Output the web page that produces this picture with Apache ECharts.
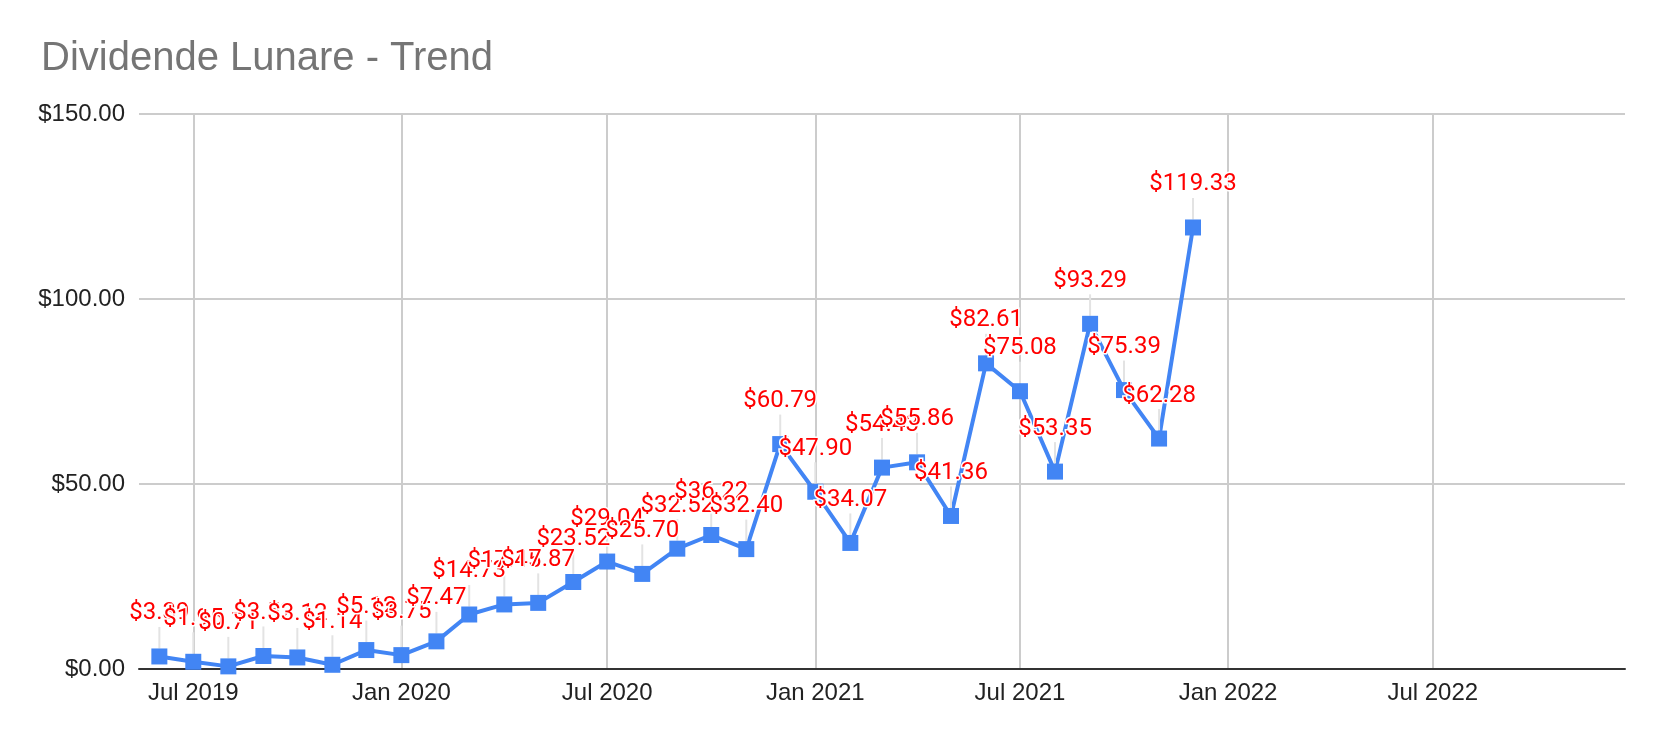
<!DOCTYPE html>
<html>
<head>
<meta charset="utf-8">
<title>Dividende Lunare - Trend</title>
<script src="https://cdn.jsdelivr.net/npm/echarts@6/dist/echarts.min.js"></script>
<style>
  html, body { margin: 0; padding: 0; background: #fff; }
  #main { width: 1662px; height: 742px; }
</style>
</head>
<body>
<div id="main"></div>
<script>
// one point per month, first of the month
var months = [
    '2019-06-01', '2019-07-01', '2019-08-01', '2019-09-01', '2019-10-01', '2019-11-01', '2019-12-01',
    '2020-01-01', '2020-02-01', '2020-03-01', '2020-04-01', '2020-05-01', '2020-06-01',
    '2020-07-01', '2020-08-01', '2020-09-01', '2020-10-01', '2020-11-01', '2020-12-01',
    '2021-01-01', '2021-02-01', '2021-03-01', '2021-04-01', '2021-05-01', '2021-06-01',
    '2021-07-01', '2021-08-01', '2021-09-01', '2021-10-01', '2021-11-01', '2021-12-01'
];
var dividends = [
    3.39, 1.95, 0.71, 3.52, 3.12, 1.14, 5.12,
    3.75, 7.47, 14.73, 17.45, 17.87, 23.52,
    29.04, 25.70, 32.52, 36.22, 32.40, 60.79,
    47.90, 34.07, 54.43, 55.86, 41.36, 82.61,
    75.08, 53.35, 93.29, 75.39, 62.28, 119.33
];
var yTicks = [0, 50, 100, 150];
var monthNames = ['Jan', 'Feb', 'Mar', 'Apr', 'May', 'Jun', 'Jul', 'Aug', 'Sep', 'Oct', 'Nov', 'Dec'];

var seriesData = [];
for (var i = 0; i < months.length; i++) {
    seriesData.push([months[i], dividends[i]]);
}

var day = 24 * 3600 * 1000;
var chart = echarts.init(document.getElementById('main'));
var option = {
    animation: false,
    backgroundColor: '#fff',
    title: {
        text: 'Dividende Lunare - Trend',
        left: 36,
        top: 34,
        textStyle: {
            fontFamily: 'Liberation Sans',
            fontSize: 40,
            fontWeight: 'normal',
            color: '#757575'
        }
    },
    grid: {
        left: 139,
        right: 37,
        top: 114,
        bottom: 73,
        containLabel: false
    },
    xAxis: {
        type: 'time',
        min: new Date(2019, 4, 14).getTime(),
        max: new Date(2022, 11, 18).getTime(),
        minInterval: 180 * day,
        maxInterval: 185 * day,
        axisLine: { show: true, lineStyle: { color: '#333', width: 2 } },
        axisTick: { show: false },
        splitLine: {
            show: true,
            showMinLine: false,
            showMaxLine: false,
            lineStyle: { color: '#ccc', width: 2 }
        },
        axisLabel: {
            fontFamily: 'Liberation Sans',
            fontSize: 24,
            color: '#222',
            margin: 12,
            hideOverlap: false,
            showMinLabel: false,
            showMaxLabel: false,
            formatter: function (v) {
                var d = new Date(v);
                return monthNames[d.getMonth()] + ' ' + d.getFullYear();
            }
        }
    },
    yAxis: {
        type: 'value',
        min: yTicks[0],
        max: yTicks[yTicks.length - 1],
        interval: 50,
        axisLine: { show: false },
        axisTick: { show: false },
        splitLine: { lineStyle: { color: '#ccc', width: 2 } },
        axisLabel: {
            fontFamily: 'Liberation Sans',
            fontSize: 24,
            color: '#222',
            margin: 14,
            formatter: function (v) { return '$' + v.toFixed(2); }
        }
    },
    series: [{
        name: 'Dividende',
        type: 'line',
        data: seriesData,
        symbol: 'rect',
        symbolSize: 16,
        showAllSymbol: true,
        itemStyle: { color: '#4285F4' },
        lineStyle: { color: '#4285F4', width: 4 },
        label: {
            show: true,
            position: 'top',
            distance: 23,
            fontFamily: 'Roboto',
            fontSize: 24,
            color: '#ff0000',
            textBorderColor: '#fff',
            textBorderWidth: 3,
            formatter: function (p) { return '$' + p.value[1].toFixed(2); }
        },
        labelLine: {
            show: true,
            lineStyle: { color: '#e3e3e3', width: 2 }
        },
        labelLayout: { hideOverlap: false }
    }]
};
chart.setOption(option);
</script>
</body>
</html>
